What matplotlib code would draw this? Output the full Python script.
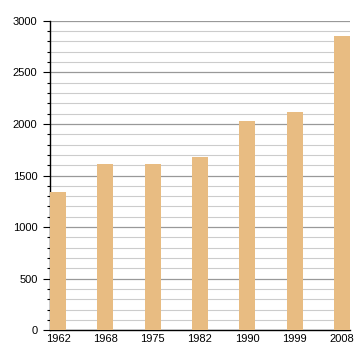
import matplotlib
matplotlib.use("Agg")
import matplotlib.pyplot as plt
from matplotlib.ticker import MultipleLocator

plt.rcParams["font.family"] = ["Liberation Sans", "DejaVu Sans"]

years = ["1962", "1968", "1975", "1982", "1990", "1999", "2008"]
values = [1340, 1612, 1610, 1680, 2029, 2117, 2854]

fig = plt.figure(figsize=(3.6, 3.6), dpi=100)
ax = fig.add_axes([0.139, 0.083, 0.833, 0.859])

x = list(range(len(years)))
ax.bar(x, values, width=0.34, color="#E8BC82", zorder=3)

ax.set_xlim(-0.17, 6.17)
ax.set_ylim(0, 3000)
ax.yaxis.set_major_locator(MultipleLocator(500))
ax.yaxis.set_minor_locator(MultipleLocator(100))
ax.grid(axis="y", which="major", color="#999999", linewidth=0.9, zorder=0)
ax.grid(axis="y", which="minor", color="#cccccc", linewidth=0.8, zorder=0)

ax.set_xticks(x)
ax.set_xticklabels(years)
ax.tick_params(axis="x", length=0, labelsize=8, pad=3)
ax.tick_params(axis="y", which="major", length=5, width=0.8, labelsize=8, pad=4)
ax.tick_params(axis="y", which="minor", length=2.5, width=0.8)

for s in ["top", "right"]:
    ax.spines[s].set_visible(False)
ax.spines["left"].set_linewidth(1.0)
ax.spines["bottom"].set_linewidth(1.0)

fig.savefig("out.png", dpi=100)
